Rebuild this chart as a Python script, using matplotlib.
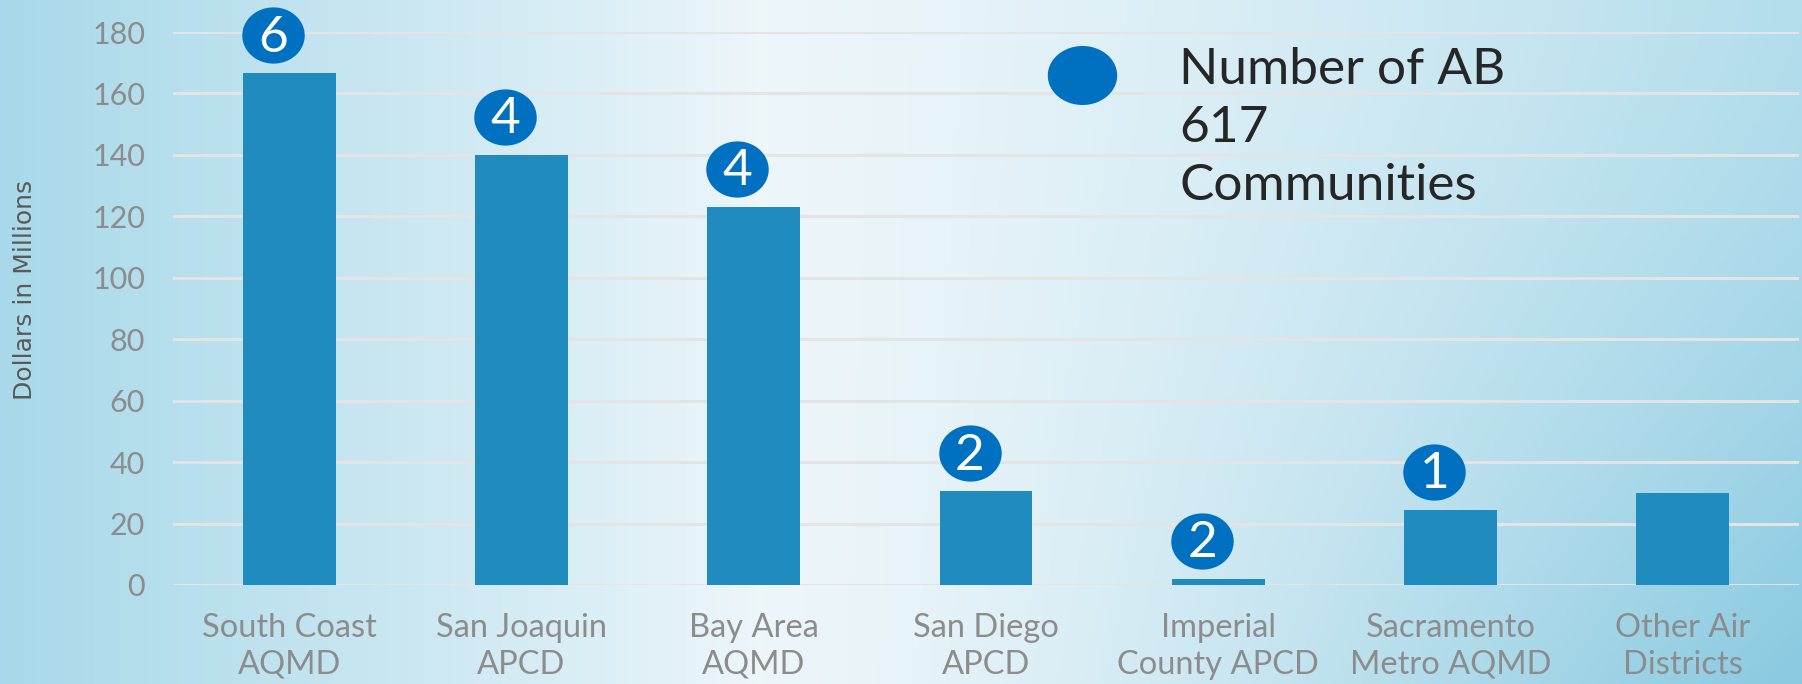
import numpy as np
import matplotlib.pyplot as plt
from matplotlib.path import Path

# Data
districts = ["South Coast\nAQMD", "San Joaquin\nAPCD", "Bay Area\nAQMD", "San Diego\nAPCD",
             "Imperial\nCounty APCD", "Sacramento\nMetro AQMD", "Other Air\nDistricts"]
dollars = [166.5, 140, 123, 30.5, 2, 24.5, 30]
communities = [6, 4, 4, 2, 2, 1, None]
yticks = [0, 20, 40, 60, 80, 100, 120, 140, 160, 180]

FONT = ["Lato", "DejaVu Sans"]
BAR_BLUE = "#1f8bbf"
DOT_BLUE = "#0070c0"


def make_background(h=200, w=520):
  xs = np.linspace(0, 1, w)[None, :]
  ys = np.linspace(0, 1, h)[:, None]
  light = np.array([0.93, 0.965, 0.98])
  blue = np.array([0.66, 0.85, 0.915])
  deep = np.array([0.50, 0.77, 0.87])
  left = np.clip((0.42 - xs) / 0.42, 0, 1) ** 0.9
  right = np.clip((xs - 0.42) / 0.58, 0, 1) ** 1.3
  w_blue = np.maximum(left, right * 0.85) + 0 * ys
  w_deep = (right ** 1.5) * (ys ** 1.5)
  img = light * (1 - w_blue[..., None]) + blue * w_blue[..., None]
  img = img * (1 - 0.8 * w_deep[..., None]) + deep * 0.8 * w_deep[..., None]
  return np.clip(img, 0, 1)


def ellipse_marker(ratio):
  t = np.linspace(0, 2 * np.pi, 64)
  verts = np.column_stack([np.cos(t), ratio * np.sin(t)])
  return Path(verts, closed=True)


def main():
  fig = plt.figure(figsize=(18.02, 6.84), dpi=100)

  bg = fig.add_axes([0, 0, 1, 1], zorder=-10)
  bg.imshow(make_background(), aspect="auto", extent=[0, 1, 0, 1])
  bg.axis("off")

  ax = fig.add_axes([173 / 1802, 99 / 684, 1626 / 1802, 553 / 684])
  ax.patch.set_alpha(0)
  x = np.arange(len(districts))
  ax.bar(x, dollars, width=0.4, color=BAR_BLUE, zorder=3)

  ax.set_xlim(-0.5, 6.5)
  ax.set_ylim(0, 180)
  ax.set_yticks(yticks)
  ax.set_yticklabels([str(v) for v in yticks], fontsize=22, color="#8c8c8c", family=FONT)
  ax.set_xticks(x)
  ax.set_xticklabels(districts, fontsize=23.5, color="#8c8c8c", family=FONT, linespacing=1.3)
  ax.tick_params(axis="y", length=0, pad=20)
  ax.tick_params(axis="x", length=0, pad=20)
  ax.grid(axis="y", color="#e4e4e4", linewidth=2.2, zorder=0)
  for s in ax.spines.values():
    s.set_visible(False)

  # community count markers
  marker = ellipse_marker(0.9)
  for i, (v, n) in enumerate(zip(dollars, communities)):
    if n is None:
      continue
    cy = v + 12.4
    ax.scatter([i - 0.07], [cy], marker=marker, s=45 ** 2, color=DOT_BLUE,
               zorder=5, clip_on=False, linewidths=0)
    ax.text(i - 0.07, cy - 0.8, str(n), ha="center", va="center", color="white",
            fontsize=37, family=FONT, zorder=6, clip_on=False)

  # legend
  lg = fig.add_axes([0, 0, 1, 1], zorder=5)
  lg.set_xlim(0, 1802)
  lg.set_ylim(684, 0)
  lg.axis("off")
  lg.scatter([1082], [75], marker=ellipse_marker(0.85), s=50 ** 2, color=DOT_BLUE, linewidths=0)
  lg.text(1179, 128, "Number of AB\n617\nCommunities", ha="left", va="center",
          fontsize=37, color="#262626", family=FONT, linespacing=1.33)

  fig.text(25 / 1802, 1 - 290 / 684, "Dollars in Millions", rotation=90, ha="center", va="center",
           fontsize=18, color="#595959", family=["Liberation Sans Narrow", "DejaVu Sans"])

  fig.savefig("out.png", dpi=100)


if __name__ == "__main__":
  main()
